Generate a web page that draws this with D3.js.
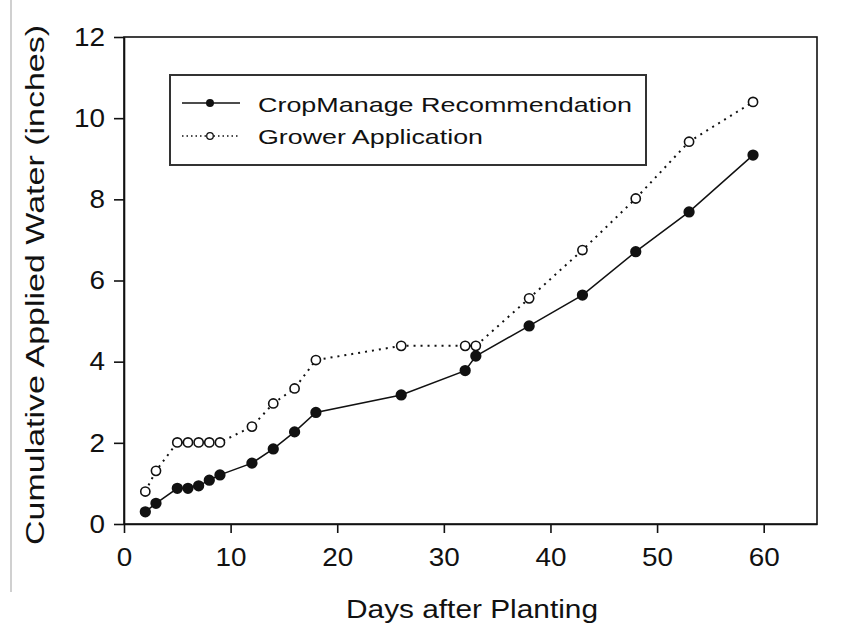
<!DOCTYPE html>
<html>
<head>
<meta charset="utf-8">
<script src="https://cdn.jsdelivr.net/npm/d3@7"></script>
<style>
  html, body { margin: 0; padding: 0; background: #fff; }
  svg { display: block; }
  text { font-family: "Liberation Sans", Arial, sans-serif; fill: #111; }
</style>
</head>
<body>
<svg id="chart" width="844" height="635"></svg>
<script>
// ---- data ----
const cropDays   = [2, 3, 5, 6, 7, 8, 9, 12, 14, 16, 18, 26, 32, 33, 38, 43, 48, 53, 59];
const cropWater  = [0.30, 0.51, 0.88, 0.88, 0.94, 1.08, 1.21, 1.50, 1.85, 2.27, 2.75, 3.18, 3.78, 4.14, 4.88, 5.64, 6.71, 7.69, 9.09];
const growDays   = [2, 3, 5, 6, 7, 8, 9, 12, 14, 16, 18, 26, 32, 33, 38, 43, 48, 53, 59];
const growWater  = [0.80, 1.31, 2.01, 2.01, 2.01, 2.01, 2.01, 2.40, 2.97, 3.34, 4.04, 4.39, 4.39, 4.39, 5.56, 6.75, 8.02, 9.42, 10.40];
const xTicks     = [0, 10, 20, 30, 40, 50, 60];
const yTicks     = [0, 2, 4, 6, 8, 10, 12];
const seriesNames = ["CropManage Recommendation", "Grower Application"];
const xTitle = "Days after Planting";
const yTitle = "Cumulative Applied Water (inches)";

// ---- layout ----
const svg = d3.select("#chart");
const L = 124, R = 817, T = 37, B = 524;
const x = d3.scaleLinear().domain([0, 65]).range([L, R]);
const y = d3.scaleLinear().domain([0, 12]).range([B, T]);
const FONT = '"Liberation Sans", Arial, sans-serif';

// stray gray border line at left
svg.append("line").attr("x1", 11).attr("x2", 11).attr("y1", 0).attr("y2", 592)
  .attr("stroke", "#d0d0d0").attr("stroke-width", 2);

// frame
svg.append("rect").attr("x", L).attr("y", T).attr("width", R - L).attr("height", B - T)
  .attr("fill", "none").attr("stroke", "#111").attr("stroke-width", 1.6);

// axes
const xAxis = d3.axisBottom(x).tickValues(xTicks).tickSize(9).tickSizeOuter(0).tickPadding(15);
const yAxis = d3.axisLeft(y).tickValues(yTicks).tickSize(10).tickSizeOuter(0).tickPadding(9);

const gx = svg.append("g").attr("transform", `translate(0,${B})`).call(xAxis);
const gy = svg.append("g").attr("transform", `translate(${L},0)`).call(yAxis);
[gx, gy].forEach(g => {
  g.select(".domain").attr("stroke", "#111").attr("stroke-width", 1.6);
  g.selectAll(".tick line").attr("stroke", "#111").attr("stroke-width", 1.6);
  g.selectAll(".tick text").attr("font-size", 26).attr("fill", "#111")
    .attr("font-family", FONT)
    .attr("textLength", d => String(d).length * 15.5)
    .attr("lengthAdjust", "spacingAndGlyphs");
});

// titles
svg.append("text").attr("x", 472).attr("y", 618).attr("text-anchor", "middle")
  .attr("font-size", 25).attr("textLength", 252).attr("lengthAdjust", "spacingAndGlyphs")
  .text(xTitle);
svg.append("text").attr("transform", `translate(44,${285}) rotate(-90)`)
  .attr("text-anchor", "middle").attr("font-size", 26)
  .attr("textLength", 520).attr("lengthAdjust", "spacingAndGlyphs").text(yTitle);

// lines
const cropData = cropDays.map((d, i) => ({ d, v: cropWater[i] }));
const growData = growDays.map((d, i) => ({ d, v: growWater[i] }));
const line = d3.line().x(p => x(p.d)).y(p => y(p.v));

svg.append("path").datum(growData).attr("d", line).attr("fill", "none")
  .attr("stroke", "#111").attr("stroke-width", 2).attr("stroke-dasharray", "2,5");
svg.append("path").datum(cropData).attr("d", line).attr("fill", "none")
  .attr("stroke", "#111").attr("stroke-width", 1.5);

svg.append("g").selectAll("circle").data(growData).join("circle")
  .attr("cx", p => x(p.d)).attr("cy", p => y(p.v)).attr("r", 4.6)
  .attr("fill", "#fff").attr("stroke", "#111").attr("stroke-width", 1.6);
svg.append("g").selectAll("path").data(cropData).join("path")
  .attr("transform", p => `translate(${x(p.d)},${y(p.v)})`)
  .attr("d", d3.symbol().type(d3.symbolCircle).size(100)).attr("fill", "#111");

// legend
const lg = svg.append("g");
lg.append("rect").attr("x", 170).attr("y", 75).attr("width", 476).attr("height", 90)
  .attr("fill", "#fff").attr("stroke", "#333").attr("stroke-width", 2);
const ly = [103, 136];
const lb = [112, 144];
const lw = [374, 225];
lg.append("line").attr("x1", 182).attr("x2", 240).attr("y1", ly[0]).attr("y2", ly[0])
  .attr("stroke", "#111").attr("stroke-width", 1.5);
lg.append("path").attr("transform", `translate(210,${ly[0]})`)
  .attr("d", d3.symbol().type(d3.symbolCircle).size(50)).attr("fill", "#111");
lg.append("line").attr("x1", 182).attr("x2", 240).attr("y1", ly[1]).attr("y2", ly[1])
  .attr("stroke", "#111").attr("stroke-width", 1.5).attr("stroke-dasharray", "1.5,3");
lg.append("circle").attr("cx", 210).attr("cy", ly[1]).attr("r", 3.3)
  .attr("fill", "#fff").attr("stroke", "#111").attr("stroke-width", 1.3);
seriesNames.forEach((n, i) => {
  lg.append("text").attr("x", 258).attr("y", lb[i]).attr("font-size", 21)
    .attr("textLength", lw[i]).attr("lengthAdjust", "spacingAndGlyphs").text(n);
});
</script>
</body>
</html>
